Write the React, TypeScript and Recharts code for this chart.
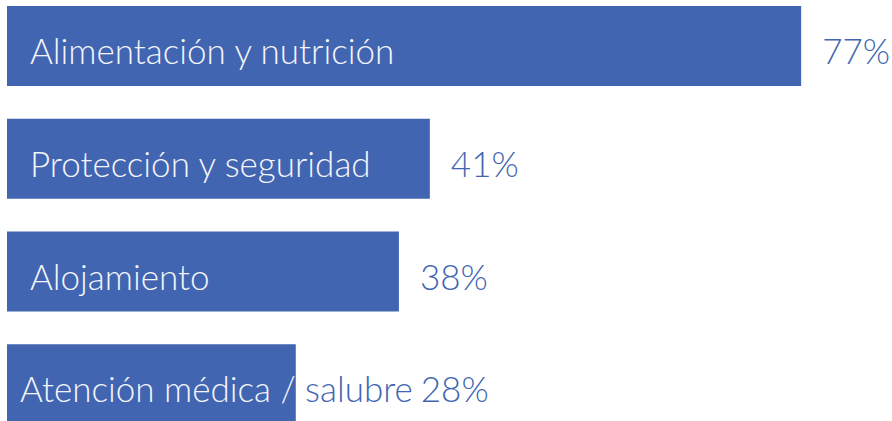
import React from 'react'
import { BarChart, Bar, XAxis, YAxis, LabelList } from 'recharts'

const categories = ['Alimentación y nutrición', 'Protección y seguridad', 'Alojamiento', 'Atención médica / salubre']
const values = [77, 41, 38, 28]

const data = categories.map((name, i) => ({ name, value: values[i] }))

const BLUE = '#4165b0'
const FONT = 'Lato, "Open Sans", sans-serif'
const FONT_SIZE = 35
const FONT_WEIGHT = 300

let ctx: CanvasRenderingContext2D | null = null
function measure(text: string) {
  if (!ctx) ctx = document.createElement('canvas').getContext('2d')
  if (!ctx) return text.length * FONT_SIZE * 0.45
  ctx.font = `${FONT_WEIGHT} ${FONT_SIZE}px Lato`
  return ctx.measureText(text).width
}

function BarLabel(props: any) {
  const { x, y, width, height, index } = props
  const name = categories[index]
  const value = values[index]
  // last label is too long for its bar, so it starts a bit further left and spills out
  const tx = x + (index === 3 ? 13 : 23)
  const ty = y + height / 2 + 18
  const vx = Math.max(x + width + 21, tx + measure(name) + 8)
  const clipId = `bar-clip-${index}`
  const textProps = { fontFamily: FONT, fontSize: FONT_SIZE, fontWeight: FONT_WEIGHT }
  return (
    <g>
      <defs>
        <clipPath id={clipId}>
          <rect x={x} y={y} width={width} height={height} />
        </clipPath>
      </defs>
      <text x={tx} y={ty} fill={BLUE} {...textProps}>{name}</text>
      <text x={tx} y={ty} fill="#f4f5fb" clipPath={`url(#${clipId})`} {...textProps}>{name}</text>
      <text x={vx} y={ty} fill={BLUE} {...textProps}>{value}%</text>
    </g>
  )
}

export default function App() {
  return (
    <div style={{ position: 'absolute', left: 0, top: 0, width: 892, height: 421, overflow: 'hidden', background: '#fff' }}>
      <div style={{ position: 'absolute', left: 0, top: -10.35 }}>
        <BarChart width={892} height={451} data={data} layout="vertical" margin={{ top: 0, right: 8.35, bottom: 0, left: 7 }}>
          <XAxis type="number" domain={[0, 85]} hide />
          <YAxis type="category" dataKey="name" hide />
          <Bar dataKey="value" fill={BLUE} barSize={80} isAnimationActive={false}>
            <LabelList dataKey="name" content={BarLabel} />
          </Bar>
        </BarChart>
      </div>
    </div>
  )
}
